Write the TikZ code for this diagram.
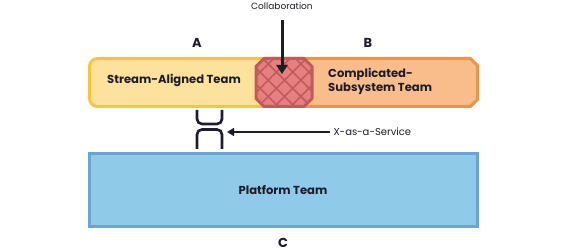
\documentclass[tikz,border=0pt]{standalone}
\usepackage{fontspec}
\setmainfont{Poppins}
\usetikzlibrary{arrows.meta,patterns.meta}
\definecolor{yfill}{HTML}{FDE29D}
\definecolor{ydraw}{HTML}{F6C343}
\definecolor{ofill}{HTML}{F9BD8C}
\definecolor{odraw}{HTML}{E8954B}
\definecolor{rfill}{HTML}{E68080}
\definecolor{rdraw}{HTML}{C35A5A}
\definecolor{bfill}{HTML}{8FCAE8}
\definecolor{bdraw}{HTML}{6BA4D4}
\definecolor{ink}{HTML}{1C1C2A}
\tikzset{
  teamtext/.style={text=ink, inner sep=0pt, font=\fontsize{11.6}{14}\selectfont\bfseries},
  lbl/.style={text=ink, inner sep=0pt, font=\fontsize{13}{14}\selectfont\bfseries},
  small/.style={text=ink, font=\fontsize{9}{10}\selectfont},
  border/.style={line width=3pt, line join=round},
}
\begin{document}
\begin{tikzpicture}[x=1pt,y=-1pt]
\useasboundingbox (0,0) rectangle (566,251);
% Complicated-Subsystem (orange)
\draw[border, fill=ofill, draw=odraw] (272,58.5) -- (470.5,58.5) -- (477.5,65.5) -- (477.5,99.5) -- (470.5,106.5) -- (272,106.5) -- cycle;
% Stream-aligned (yellow)
\draw[border, fill=yfill, draw=ydraw, rounded corners=8pt] (276,58.5) -- (89.5,58.5) -- (89.5,106.5) -- (276,106.5);
\fill[yfill] (260,60) rectangle (278,105);
% Collaboration octagon
\coordinate (co) at (284,82.5);
\path[fill=rfill] (264,58.5) -- (304,58.5) -- (312,66.5) -- (312,98.5) -- (304,106.5) -- (264,106.5) -- (256,98.5) -- (256,66.5) -- cycle;
\path[pattern={Lines[angle=45,distance=11.5pt,line width=1.6pt]}, pattern color=rdraw] (264,58.5) -- (304,58.5) -- (312,66.5) -- (312,98.5) -- (304,106.5) -- (264,106.5) -- (256,98.5) -- (256,66.5) -- cycle;
\path[pattern={Lines[angle=-45,distance=11.5pt,line width=1.6pt]}, pattern color=rdraw] (264,58.5) -- (304,58.5) -- (312,66.5) -- (312,98.5) -- (304,106.5) -- (264,106.5) -- (256,98.5) -- (256,66.5) -- cycle;
\draw[border, draw=rdraw] (264,58.5) -- (304,58.5) -- (312,66.5) -- (312,98.5) -- (304,106.5) -- (264,106.5) -- (256,98.5) -- (256,66.5) -- cycle;
% texts
\node[teamtext] (satext) at (174,80) {Stream-Aligned Team};
\node[teamtext, align=left, anchor=west] (cstext) at (328,81) {Complicated-\\Subsystem Team};
% Platform
\node[teamtext, rectangle, line width=3pt, fill=bfill, draw=bdraw, minimum width=388pt, minimum height=73pt] (pf) at (283,190.5) {Platform Team};
% labels
\node[lbl] (la) at (197,43) {A};
\node[lbl] (lb) at (368,43) {B};
\node[lbl] (lc) at (283,243) {C};
\node[small] (coltext) at (282,6) {Collaboration};
\coordinate (colstart) at (282,20);
\coordinate (colend) at (282,74);
\draw[line width=3pt, -{Triangle[width=11pt,length=9pt]}, ink] (colstart) -- (colend);
% XaaS symbol
\coordinate (xs) at (209.5,129.5);
\draw[line width=2.6pt, ink, rounded corners=5pt] (197,110) -- (197,124) -- (222,124) -- (222,110);
\draw[line width=2.6pt, ink, rounded corners=5pt] (197,149) -- (197,129.5) -- (222,129.5) -- (222,149);
\node[small, anchor=west, font=\fontsize{10}{11}\selectfont] (xt) at (330,132) {X-as-a-Service};
\draw[line width=1.5pt, ink, -{Triangle[width=8pt,length=7pt]}] (xt.west) -- (227,132);
\end{tikzpicture}
\end{document}
